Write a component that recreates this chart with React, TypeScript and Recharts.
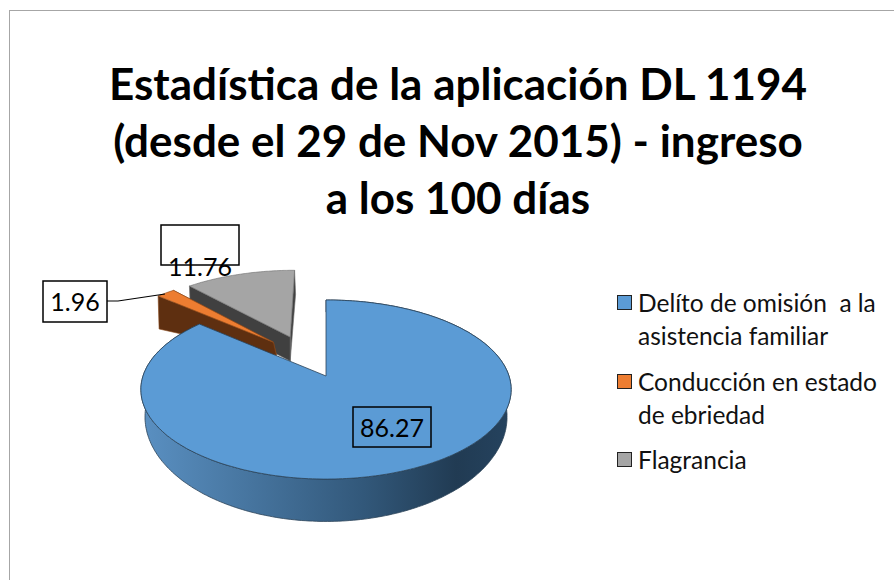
import { PieChart, Pie, Legend } from "recharts";

const categories = [
  "Delíto de omisión  a la asistencia familiar",
  "Conducción en estado de ebriedad",
  "Flagrancia",
];
const values = [86.27, 1.96, 11.76];
const colors = ["#5b9bd5", "#ed7d31", "#a5a5a5"];
const wallColors = ["url(#blueWall)", "#5e2f10", "#404040"];
const edgeColors = ["#2b4358", "#8a4a1c", "#6b6b6b"];
const titleLines = [
  "Estadística de la aplicación DL 1194",
  "(desde el 29 de Nov 2015) - ingreso",
  "a los 100 días",
];

// pie is drawn counter clockwise so the front slice is painted last
const pieData = categories
  .map((name, i) => ({ name, value: values[i], idx: i }))
  .reverse();

// offset of each slice in the pie plane, unit = radius
const explode = [
  [0, 0],
  [-0.305, 0.41],
  [-0.21, 0.478],
];
// side wall height [at apex, at rim]
const wallDepth = [
  [24, 24],
  [13, 33],
  [24, 24],
];
const labelBoxes = [
  { x: 353, y: 407, w: 78, h: 40, tx: 392, ty: 437 },
  { x: 43, y: 281, w: 64, h: 41, tx: 75, ty: 311 },
  { x: 161, y: 225, w: 78, h: 40, tx: 200, ty: 276 },
];

const FONT = "Lato, 'Open Sans', sans-serif";

// perspective of the tilted disc
function topPoint(cx: number, cy: number, X: number, Y: number) {
  const w = 1 + 0.151 * Y;
  return [cx + (183 * X) / w, cy - (87.5 * Y) / w];
}
function bottomPoint(cx: number, cy: number, X: number, Y: number) {
  const w = 1 + 0.16 * Y;
  return [cx + (178.7 * X) / w, cy + 24 - (102 * Y) / w];
}
const toPath = (pts: number[][]) =>
  "M" + pts.map((p) => `${p[0].toFixed(1)} ${p[1].toFixed(1)}`).join("L") + "Z";

function Slice3D(props: any) {
  const { cx, cy, startAngle, endAngle, payload } = props;
  const idx = payload.idx ?? props.idx;
  const [ox, oy] = explode[idx];
  const a0 = Math.min(startAngle, endAngle);
  const a1 = Math.max(startAngle, endAngle);
  const angles: number[] = [];
  for (let a = a0; a < a1; a += 1) angles.push(a);
  angles.push(a1);
  const unit = angles.map((a) => [
    Math.cos((a * Math.PI) / 180) + ox,
    Math.sin((a * Math.PI) / 180) + oy,
  ]);
  const rim = unit.map((u) => topPoint(cx, cy, u[0], u[1]));
  const apex = topPoint(cx, cy, ox, oy);
  const [dApex, dRim] = wallDepth[idx];
  const stroke = edgeColors[idx];

  if (idx === 0) {
    const lower = unit.map((u) => bottomPoint(cx, cy, u[0], u[1]));
    return (
      <g>
        <path
          d={toPath([...rim, ...[...lower].reverse()])}
          fill={wallColors[0]}
          stroke={stroke}
          strokeWidth={0.8}
        />
        <path d={toPath([apex, ...rim])} fill={colors[0]} stroke={stroke} strokeWidth={0.8} />
      </g>
    );
  }

  // only the cut faces of the pulled out slices can be seen
  const cutFace = (p: number[]) =>
    toPath([
      apex,
      p,
      [p[0] + 1, p[1] + dRim],
      [apex[0] + (idx === 1 ? 3 : 0), apex[1] + dApex],
    ]);
  return (
    <g>
      <path d={cutFace(rim[0])} fill={wallColors[idx]} stroke={stroke} strokeWidth={0.6} />
      <path
        d={cutFace(rim[rim.length - 1])}
        fill={wallColors[idx]}
        stroke={stroke}
        strokeWidth={0.6}
      />
      <path d={toPath([apex, ...rim])} fill={colors[idx]} stroke={stroke} strokeWidth={0.6} />
    </g>
  );
}

function renderLabel(props: any) {
  const idx = props.payload?.idx ?? props.idx;
  const box = labelBoxes[idx];
  return (
    <g>
      {idx === 1 && <path d="M107 301L118 301L165 294" fill="none" stroke="#000" strokeWidth={1.2} />}
      <rect x={box.x} y={box.y} width={box.w} height={box.h} fill="none" stroke="#000" strokeWidth={1.5} />
      <text x={box.tx} y={box.ty} textAnchor="middle" fontFamily={FONT} fontSize={25} fill="#000">
        {values[idx].toFixed(2)}
      </text>
    </g>
  );
}

function LegendBox() {
  return (
    <div style={{ fontFamily: FONT, fontSize: 24.5, lineHeight: "33px", color: "#111" }}>
      {categories.map((name, i) => (
        <div key={name} style={{ position: "relative", paddingLeft: 21, marginBottom: 12.5, whiteSpace: "pre-wrap" }}>
          <span
            style={{
              position: "absolute",
              left: 0,
              top: 9,
              width: 13,
              height: 13,
              background: colors[i],
              border: "1.5px solid #222",
            }}
          />
          {name}
        </div>
      ))}
    </div>
  );
}

export default function App() {
  return (
    <div style={{ position: "absolute", left: 0, top: 0, width: 894, height: 580, overflow: "hidden", background: "#fff" }}>
      <div
        style={{
          position: "absolute",
          left: 9,
          top: 10,
          width: 900,
          height: 600,
          border: "1.5px solid #a6a6a6",
        }}
      />
      <div style={{ position: "absolute", left: 0, top: 0 }}>
        <PieChart width={894} height={580} margin={{ top: 0, right: 0, bottom: 0, left: 0 }}>
          <defs>
            <linearGradient id="blueWall" gradientUnits="userSpaceOnUse" x1="141" y1="0" x2="512" y2="0">
              <stop offset="0%" stopColor="#5a90c2" />
              <stop offset="30%" stopColor="#46749e" />
              <stop offset="60%" stopColor="#32587a" />
              <stop offset="85%" stopColor="#213b53" />
              <stop offset="100%" stopColor="#25435f" />
            </linearGradient>
          </defs>
          {titleLines.map((line, i) => (
            <text
              key={line}
              x={458}
              y={100 + i * 57}
              textAnchor="middle"
              fontFamily={FONT}
              fontWeight={700}
              fontSize={44}
              fill="#000"
            >
              {line}
            </text>
          ))}
          <Pie
            data={pieData}
            dataKey="value"
            nameKey="name"
            cx={326}
            cy={376}
            outerRadius={100}
            startAngle={90}
            endAngle={450}
            stroke="none"
            shape={Slice3D}
            inactiveShape={Slice3D}
            label={renderLabel}
            labelLine={false}
            isAnimationActive={false}
          />
          <Legend
            content={<LegendBox />}
            wrapperStyle={{ position: "absolute", left: 617, top: 286, width: 268, bottom: "auto", right: "auto" }}
          />
        </PieChart>
      </div>
    </div>
  );
}
